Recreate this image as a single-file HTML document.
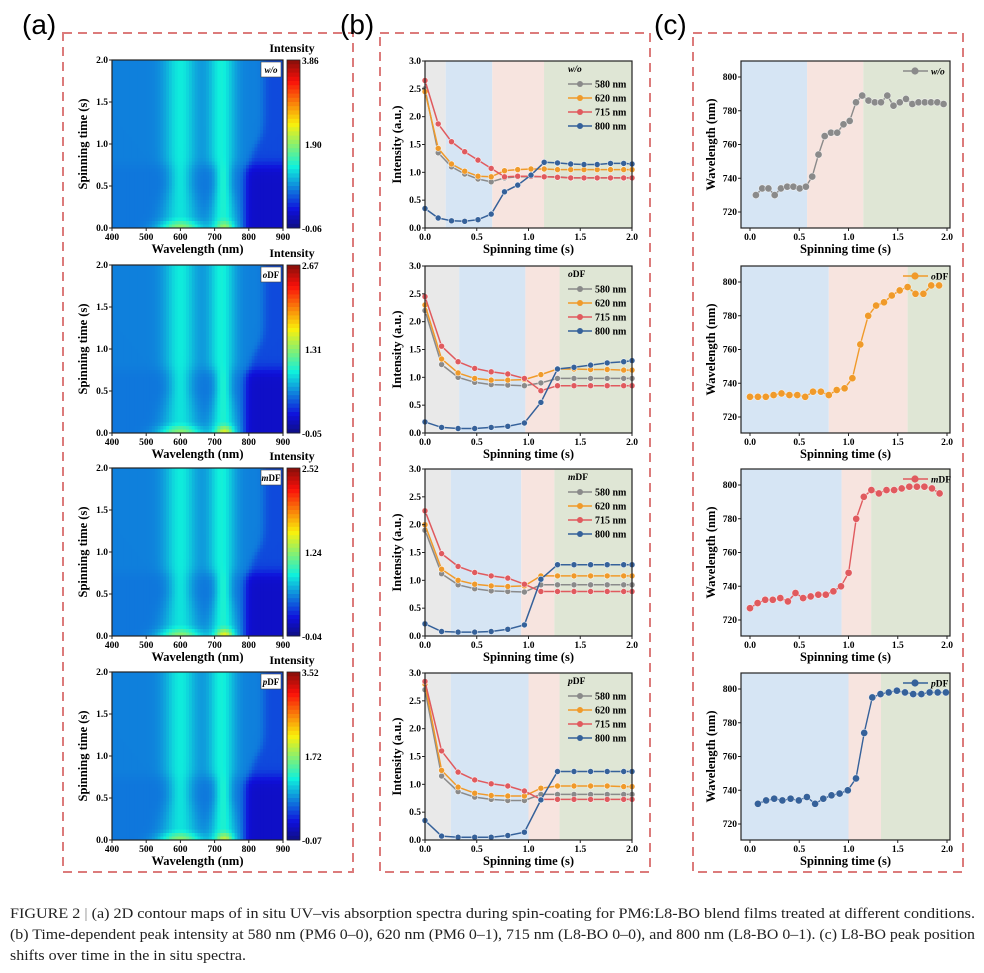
<!DOCTYPE html>
<html><head><meta charset="utf-8">
<style>
body{margin:0;background:#fff;width:984px;height:973px;overflow:hidden;font-family:"Liberation Serif",serif}
svg{position:absolute;left:0;top:0}
</style></head><body>
<svg id="s" width="984" height="973" xmlns="http://www.w3.org/2000/svg"></svg>
<svg width="984" height="973" xmlns="http://www.w3.org/2000/svg" style="pointer-events:none">
<g font-family="Liberation Serif,serif" font-size="15" fill="#222">
<text x="10" y="918" textLength="965" lengthAdjust="spacingAndGlyphs">FIGURE  2  <tspan fill="#888">|</tspan>   (a) 2D contour maps of in situ UV–vis absorption spectra during spin-coating for PM6:L8-BO blend films treated at different conditions.</text>
<text x="10" y="939" textLength="965" lengthAdjust="spacingAndGlyphs">(b) Time-dependent peak intensity at 580 nm (PM6 0–0), 620 nm (PM6 0–1), 715 nm (L8-BO 0–0), and 800 nm (L8-BO 0–1). (c) L8-BO peak position</text>
<text x="10" y="960" textLength="236" lengthAdjust="spacingAndGlyphs">shifts over time in the in situ spectra.</text>
</g></svg>
<script>
var o=[];
function T(x,y,s,sz,a,ex){o.push('<text x="'+x+'" y="'+y+'" font-size="'+sz+'" font-weight="bold" text-anchor="'+(a||'middle')+'" '+(ex||'')+'>'+s+'</text>');}
function R(x,y,w,h,f,ex){o.push('<rect x="'+x+'" y="'+y+'" width="'+w+'" height="'+h+'" fill="'+f+'" '+(ex||'')+'/>');}
function L(x1,y1,x2,y2,c,w){o.push('<line x1="'+x1+'" y1="'+y1+'" x2="'+x2+'" y2="'+y2+'" stroke="'+(c||'#222')+'" stroke-width="'+(w||1)+'"/>');}
function cl(v){return Math.max(0,Math.min(1,v));}
function jet(v){var r=cl(1.5-Math.abs(4*v-3)),g=cl(1.5-Math.abs(4*v-2)),b=cl(1.5-Math.abs(4*v-1));return 'rgb('+Math.round(r*235+15)+','+Math.round(g*225+15)+','+Math.round(b*210+10)+')';}
function sig(x){return 1/(1+Math.exp(-x));}
[[63,353],[380,650],[693,963]].forEach(function(b){R(b[0],33,b[1]-b[0],839,'none','stroke="#dc7b7b" stroke-width="2" stroke-dasharray="9,6"');});
o.push('<text x="22" y="34" font-size="28" font-family="Liberation Sans,sans-serif">(a)</text>');
o.push('<text x="340" y="34" font-size="28" font-family="Liberation Sans,sans-serif">(b)</text>');
o.push('<text x="654" y="34" font-size="28" font-family="Liberation Sans,sans-serif">(c)</text>');
var offs=[0,205,408,612];
var names=['<tspan font-style="italic">w/o</tspan>','<tspan font-style="italic">o</tspan>DF','<tspan font-style="italic">m</tspan>DF','<tspan font-style="italic">p</tspan>DF'];
var cb=[['3.86','1.90','-0.06'],['2.67','1.31','-0.05'],['2.52','1.24','-0.04'],['3.52','1.72','-0.07']];
var peak=[0.45,0.7,0.75,0.6];
offs.forEach(function(d,k){
 var X0=112,X1=283,Y0=60+d,Y1=228+d;
 var nx=60,ny=48,cw=(X1-X0)/nx,ch=(Y1-Y0)/ny;
 for(var i=0;i<nx;i++)for(var j=0;j<ny;j++){
  var w=400+500*(i+0.5)/nx,t=2-2*(j+0.5)/ny;
  var up=sig((t-0.75)/0.04);
  var s=1+1.3*Math.max(0,0.5-t);
  var vu=0.25+0.12*Math.exp(-Math.pow((w-600)/45,2))+0.13*Math.exp(-Math.pow((w-720)/38,2));
  var vl=0.24+0.12*Math.exp(-Math.pow((w-600)/(34*s),2))+0.15*Math.exp(-Math.pow((w-725)/(24*s),2));
  if(t<0.12){vl+=(0.12-t)*2.8*(0.5*Math.exp(-Math.pow((w-600)/60,2))+peak[k]*Math.exp(-Math.pow((w-730)/25,2)));}
  var edge=790+40*sig((t-1.0)/0.08)+15*up;
  var rr=sig((w-edge)/6);
  var rv=0.19*up+0.1*(1-up);
  var v=(vu*up+vl*(1-up))*(1-rr)+rv*rr;
  R((X0+i*cw).toFixed(1),(Y0+j*ch).toFixed(1),(cw+0.4).toFixed(1),(ch+0.4).toFixed(1),jet(v));
 }
 R(X0,Y0,X1-X0,Y1-Y0,'none','stroke="#222" stroke-width="1.2"');
 R(X1-22,Y0+2,20,15,'#fff','stroke="#444" stroke-width="0.6"');
 T(X1-12,Y0+13,names[k],9);
 for(var q=0;q<40;q++){R(287,(Y0+q*(Y1-Y0)/40).toFixed(1),13,((Y1-Y0)/40+0.5).toFixed(1),jet(1-(q+0.5)/40*0.98));}
 R(287,Y0,13,Y1-Y0,'none','stroke="#222" stroke-width="0.8"');
 T(302,Y0+4,cb[k][0],9.5,'start');T(305,(Y0+Y1)/2+4,cb[k][1],9.5,'start');T(302,Y1+4,cb[k][2],9.5,'start');
 T(292,Y0-8,'Intensity',12);
 for(var i2=0;i2<=5;i2++){var x=X0+(X1-X0)*i2/5;L(x,Y1,x,Y1+3);T(x,Y1+12,400+100*i2,9.5);}
 for(var i3=0;i3<=4;i3++){var y=Y1-(Y1-Y0)*i3/4;L(X0-3,y,X0,y);T(X0-4,y+3,(0.5*i3).toFixed(1),9.5,'end');}
 T((X0+X1)/2,Y1+25,'Wavelength (nm)',12.5);
 T(0,0,'Spinning time (s)',12.5,'middle','transform="translate(87,'+((Y0+Y1)/2)+') rotate(-90)"');
});
var cols={g:'#8a8a8a',o:'#f09a2a',r:'#e05a5e',b:'#35619a'};
var bg=[[0.2,0.65,1.15],[0.33,0.97,1.3],[0.25,0.93,1.25],[0.25,1.0,1.3]];
var tA=[];for(var i=0;i<17;i++)tA.push(i*0.128);
var tB=[];for(var i=0;i<14;i++)tB.push(i*0.16);
var BD=[
 {t:tA,g:[2.5,1.35,1.1,.97,.88,.83,.9,.92,.92,.92,.92,.9,.9,.9,.9,.9,.9],o:[2.45,1.43,1.15,1.02,.93,.92,1.03,1.05,1.06,1.06,1.05,1.05,1.05,1.05,1.05,1.05,1.05],r:[2.65,1.87,1.55,1.37,1.22,1.07,.92,.93,.93,.92,.91,.9,.9,.9,.9,.9,.9],b:[.35,.18,.13,.12,.15,.25,.65,.77,.95,1.18,1.17,1.15,1.14,1.14,1.16,1.16,1.15]},
 {t:tB,g:[2.2,1.23,1.0,.91,.87,.86,.85,.9,.98,.98,.98,.98,.98,.98],o:[2.3,1.33,1.08,.98,.95,.95,.96,1.05,1.15,1.15,1.14,1.14,1.13,1.13],r:[2.45,1.56,1.28,1.16,1.1,1.06,.98,.76,.85,.85,.85,.85,.85,.85],b:[.2,.1,.08,.08,.1,.12,.18,.55,1.15,1.18,1.22,1.26,1.28,1.3]},
 {t:tB,g:[1.9,1.12,.92,.85,.81,.8,.79,.92,.92,.92,.92,.92,.92,.92],o:[2.0,1.2,1.0,.93,.9,.89,.9,1.08,1.08,1.08,1.08,1.08,1.08,1.08],r:[2.25,1.48,1.25,1.14,1.08,1.04,.93,.8,.8,.8,.8,.8,.8,.8],b:[.22,.08,.07,.07,.08,.12,.2,1.02,1.28,1.28,1.28,1.28,1.28,1.28]},
 {t:tB,g:[2.7,1.15,.87,.77,.73,.71,.71,.82,.82,.82,.82,.82,.82,.82],o:[2.8,1.25,.95,.84,.8,.79,.79,.93,.97,.97,.97,.97,.96,.96],r:[2.85,1.6,1.22,1.08,1.01,.97,.88,.73,.73,.73,.73,.73,.73,.73],b:[.35,.07,.05,.05,.05,.08,.14,.72,1.23,1.23,1.23,1.23,1.23,1.23]}
];
offs.forEach(function(d,k){
 var X0=425,X1=632,Y0=61+d,Y1=228+d;
 function px(t){return X0+(X1-X0)*t/2;} function py(v){return Y1-(Y1-Y0)*v/3;}
 var b=bg[k];
 R(X0,Y0,px(b[0])-X0,Y1-Y0,'#e9e9e9');R(px(b[0]),Y0,px(b[1])-px(b[0]),Y1-Y0,'#d6e5f4');R(px(b[1]),Y0,px(b[2])-px(b[1]),Y1-Y0,'#f7e4df');R(px(b[2]),Y0,X1-px(b[2]),Y1-Y0,'#dfe6d5');
 var D=BD[k];
 ['g','o','r','b'].forEach(function(c){
  var pts=D.t.map(function(t,i){return px(Math.min(t,2)).toFixed(1)+','+py(D[c][i]).toFixed(1);});
  o.push('<polyline points="'+pts.join(' ')+'" fill="none" stroke="'+cols[c]+'" stroke-width="1.5"/>');
  pts.forEach(function(p){var a=p.split(',');o.push('<circle cx="'+a[0]+'" cy="'+a[1]+'" r="3" fill="'+cols[c]+'" stroke="#fff" stroke-width="0.6" stroke-opacity="0.8"/>');});
 });
 R(X0,Y0,X1-X0,Y1-Y0,'none','stroke="#222" stroke-width="1.2"');
 T(568,Y0+11,names[k],9.5,'start');
 var labs=['580 nm','620 nm','715 nm','800 nm'];
 ['g','o','r','b'].forEach(function(c,i){var y=Y0+23+i*14;L(568,y,592,y,cols[c],1.5);o.push('<circle cx="580" cy="'+y+'" r="3" fill="'+cols[c]+'"/>');T(595,y+3.5,labs[i],10,'start');});
 for(var i=0;i<=4;i++){var x=X0+(X1-X0)*i/4;L(x,Y1,x,Y1+3);T(x,Y1+12,(0.5*i).toFixed(1),9.5);}
 for(var i=0;i<=6;i++){var y=Y1-(Y1-Y0)*i/6;L(X0-3,y,X0,y);T(X0-4,y+3,(0.5*i).toFixed(1),9.5,'end');}
 T((X0+X1)/2,Y1+25,'Spinning time (s)',12.5);
 T(0,0,'Intensity (a.u.)',12.5,'middle','transform="translate(401,'+((Y0+Y1)/2)+') rotate(-90)"');
});
var cc=['#8a8a8a','#f09a2a','#e05a5e','#35619a'];
var cbg=[[0.58,1.15],[0.8,1.6],[0.93,1.23],[1.0,1.33]];
var CD=[
 {t0:0.06,dt:0.0635,v:[730,734,734,730,734,735,735,734,735,741,754,765,767,767,772,774,785,789,786,785,785,789,783,785,787,784,785,785,785,785,784]},
 {t0:0.0,dt:0.08,v:[732,732,732,733,734,733,733,732,735,735,733,736,737,743,763,780,786,788,792,795,797,793,793,798,798]},
 {t0:0.0,dt:0.077,v:[727,730,732,732,733,731,736,733,734,735,735,737,740,748,780,793,797,795,797,797,798,799,799,799,798,795]},
 {t0:0.08,dt:0.083,v:[732,734,735,734,735,734,736,732,735,737,738,740,747,774,795,797,798,799,798,797,797,798,798,798]}
];
offs.forEach(function(d,k){
 var X0=741,X1=950,Y0=61+d,Y1=228+d;
 function px(t){return 750+(947-750)*t/2;} function py(v){return (77+d)+(800-v)*(135/80);}
 var b=cbg[k];
 R(X0,Y0,px(b[0])-X0,Y1-Y0,'#d6e5f4');R(px(b[0]),Y0,px(b[1])-px(b[0]),Y1-Y0,'#f7e4df');R(px(b[1]),Y0,X1-px(b[1]),Y1-Y0,'#dfe6d5');
 var D=CD[k];var pts=D.v.map(function(v,i){return px(D.t0+i*D.dt).toFixed(1)+','+py(v).toFixed(1);});
 o.push('<polyline points="'+pts.join(' ')+'" fill="none" stroke="'+cc[k]+'" stroke-width="1.4"/>');
 pts.forEach(function(p){var a=p.split(',');o.push('<circle cx="'+a[0]+'" cy="'+a[1]+'" r="3.6" fill="'+cc[k]+'" stroke="#fff" stroke-width="0.6" stroke-opacity="0.7"/>');});
 R(X0,Y0,X1-X0,Y1-Y0,'none','stroke="#222" stroke-width="1.2"');
 L(903,Y0+10,928,Y0+10,cc[k],1.4);o.push('<circle cx="915" cy="'+(Y0+10)+'" r="3.6" fill="'+cc[k]+'"/>');
 T(931,Y0+13.5,names[k],9.5,'start');
 for(var i=0;i<=4;i++){var x=px(0.5*i);L(x,Y1,x,Y1+3);T(x,Y1+12,(0.5*i).toFixed(1),9.5);}
 for(var i=0;i<=4;i++){var y=py(720+20*i);L(X0-3,y,X0,y);T(X0-4,y+3,720+20*i,9.5,'end');}
 T((X0+X1)/2,Y1+25,'Spinning time (s)',12.5);
 T(0,0,'Wavelength (nm)',12.5,'middle','transform="translate(715,'+((Y0+Y1)/2)+') rotate(-90)"');
});
document.getElementById('s').innerHTML=o.join('');
</script>
</body></html>
